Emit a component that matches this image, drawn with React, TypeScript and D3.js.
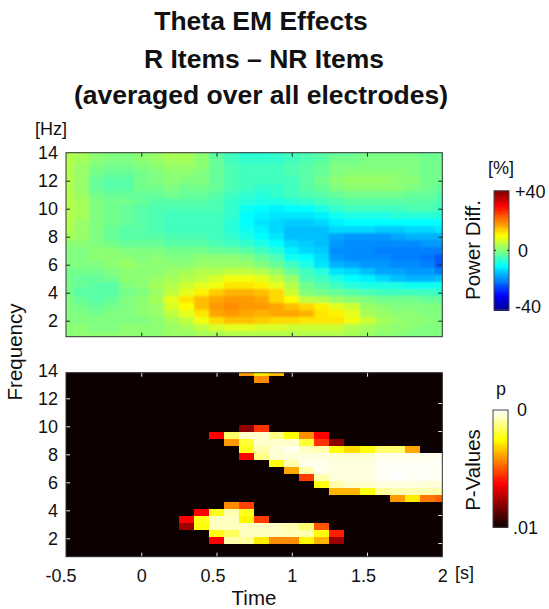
import React, { useEffect, useRef } from 'react';
import * as d3 from 'd3';

// time bins (s) and frequency bins (Hz), top row first
const times = [-0.5, -0.4, -0.3, -0.2, -0.1, 0, 0.1, 0.2, 0.3, 0.4, 0.5, 0.6, 0.7, 0.8, 0.9, 1, 1.1, 1.2, 1.3, 1.4, 1.5, 1.6, 1.7, 1.8, 1.9, 2];
const freqs = [14, 13.5, 13, 12.5, 12, 11.5, 11, 10.5, 10, 9.5, 9, 8.5, 8, 7.5, 7, 6.5, 6, 5.5, 5, 4.5, 4, 3.5, 3, 2.5, 2, 1.5, 1];

// power difference in %
const powerDiff = [
  [4, 3, 1, 0, 0, 1, 2, 3, 3, 1, -3, -5, -7, -7, -6, -5, -4, -3, -2, -2, -1, -1, -1, -1, -2, -2],
  [4, 3, 1, 0, 0, 1, 2, 3, 3, 1, -2, -5, -6, -6, -6, -5, -4, -3, -1, -1, 0, 0, 0, 0, -1, -1],
  [4, 2, 0, -1, -1, 0, 1, 2, 2, 1, -2, -4, -5, -5, -5, -4, -3, -2, 0, 0, 0, 0, 0, 0, -1, -1],
  [4, 2, -1, -2, -2, -1, 0, 1, 1, 0, -2, -4, -5, -5, -5, -4, -3, -2, 0, 1, 1, 1, 1, 0, -1, -1],
  [4, 2, -2, -3, -3, -1, 0, 1, 0, 0, -2, -4, -5, -5, -5, -5, -3, -1, 1, 2, 2, 2, 1, 1, -1, -1],
  [4, 2, -2, -3, -3, -1, -1, 0, -1, -1, -2, -4, -5, -6, -6, -5, -3, -2, 0, 1, 1, 1, 1, 0, -1, -2],
  [4, 2, -1, -2, -2, -2, -2, -1, -2, -2, -3, -5, -6, -7, -6, -5, -4, -3, -2, -1, -1, -1, -1, -2, -2, -3],
  [4, 3, 0, -1, -1, -2, -3, -3, -3, -3, -4, -6, -7, -8, -8, -7, -6, -5, -4, -3, -3, -3, -3, -3, -3, -4],
  [4, 3, 0, -1, -2, -3, -4, -4, -4, -4, -4, -6, -9, -10, -11, -10, -10, -8, -6, -5, -5, -5, -5, -4, -4, -5],
  [4, 3, 0, -1, -2, -3, -4, -5, -5, -5, -5, -6, -10, -11, -12, -12, -12, -11, -9, -8, -8, -8, -7, -7, -7, -7],
  [4, 2, 0, -1, -2, -3, -4, -5, -5, -5, -5, -7, -10, -12, -13, -14, -14, -13, -11, -10, -10, -10, -10, -10, -10, -10],
  [4, 2, 0, -2, -3, -3, -4, -5, -5, -5, -5, -7, -9, -11, -13, -15, -15, -15, -13, -13, -13, -14, -14, -13, -13, -12],
  [3, 2, 0, -2, -3, -3, -3, -4, -4, -4, -5, -6, -8, -10, -12, -15, -15, -15, -17, -18, -18, -18, -17, -16, -16, -16],
  [1, 1, 0, -1, -2, -2, -2, -3, -3, -3, -4, -5, -6, -8, -10, -13, -14, -15, -18, -19, -19, -19, -19, -19, -18, -18],
  [0, 0, 1, 1, 0, 0, 0, -1, -1, -1, -2, -2, -3, -5, -7, -11, -13, -14, -19, -19, -19, -20, -20, -20, -20, -20],
  [0, 0, 1, 1, 1, 0, 1, 0, 0, 1, 1, 1, 0, -2, -4, -9, -10, -13, -18, -19, -19, -19, -20, -20, -21, -23],
  [0, 0, 0, 1, 2, 1, 1, 1, 1, 2, 2, 2, 2, 0, -2, -5, -8, -12, -16, -17, -18, -18, -19, -19, -20, -23],
  [-1, -1, -1, 0, 1, 1, 1, 2, 3, 4, 4, 5, 5, 4, 2, -2, -5, -7, -12, -13, -15, -17, -17, -18, -18, -20],
  [-1, -2, -2, -1, 1, 1, 2, 3, 4, 5, 7, 9, 9, 8, 5, 2, -4, -5, -8, -10, -11, -13, -15, -16, -16, -15],
  [-1, -2, -3, -3, 0, 1, 3, 4, 6, 8, 9, 12, 12, 11, 8, 4, -1, -3, -5, -7, -8, -8, -8, -9, -9, -9],
  [-1, -3, -3, -3, -1, 0, 2, 5, 8, 11, 14, 16, 16, 15, 13, 6, 0, -1, -2, -3, -4, -5, -5, -5, -5, -6],
  [0, -2, -3, -2, 0, 1, 3, 8, 12, 15, 17, 18, 18, 17, 13, 10, 5, 4, 2, 1, 0, -1, -1, -1, -2, -2],
  [0, -1, -2, -1, 0, 1, 2, 7, 10, 15, 18, 19, 18, 18, 17, 15, 13, 11, 8, 6, 2, 1, 0, 0, 0, 0],
  [0, 0, -1, 0, 0, 1, 2, 5, 8, 12, 17, 18, 17, 16, 17, 17, 16, 12, 11, 8, 3, 2, 1, 1, 0, 0],
  [0, 0, 0, 0, 0, 0, 1, 3, 5, 9, 13, 15, 15, 14, 13, 13, 12, 12, 12, 9, 6, 3, 2, 1, 1, 0],
  [1, 1, 0, 0, 1, 1, 1, 2, 3, 5, 7, 8, 8, 7, 7, 6, 6, 6, 6, 4, 3, 2, 1, 1, 0, 0],
  [1, 1, 1, 1, 1, 1, 1, 2, 2, 3, 3, 4, 4, 4, 4, 4, 4, 4, 4, 3, 2, 1, 1, 0, 0, 0],
];

// position on the hot colormap (0 = p .01, 100 = p 0)
const pLevel = [
  [0, 0, 0, 0, 0, 0, 0, 0, 0, 0, 0, 0, 60, 72, 65, 0, 0, 0, 0, 0, 0, 0, 0, 0, 0, 0],
  [0, 0, 0, 0, 0, 0, 0, 0, 0, 0, 0, 0, 0, 58, 0, 0, 0, 0, 0, 0, 0, 0, 0, 0, 0, 0],
  [0, 0, 0, 0, 0, 0, 0, 0, 0, 0, 0, 0, 0, 0, 0, 0, 0, 0, 0, 0, 0, 0, 0, 0, 0, 0],
  [0, 0, 0, 0, 0, 0, 0, 0, 0, 0, 0, 0, 0, 0, 0, 0, 0, 0, 0, 0, 0, 0, 0, 0, 0, 0],
  [0, 0, 0, 0, 0, 0, 0, 0, 0, 0, 0, 0, 0, 0, 0, 0, 0, 0, 0, 0, 0, 0, 0, 0, 0, 0],
  [0, 0, 0, 0, 0, 0, 0, 0, 0, 0, 0, 0, 0, 0, 0, 0, 0, 0, 0, 0, 0, 0, 0, 0, 0, 0],
  [0, 0, 0, 0, 0, 0, 0, 0, 0, 0, 0, 0, 0, 0, 0, 0, 0, 0, 0, 0, 0, 0, 0, 0, 0, 0],
  [0, 0, 0, 0, 0, 0, 0, 0, 0, 0, 0, 0, 0, 0, 0, 0, 0, 0, 0, 0, 0, 0, 0, 0, 0, 0],
  [0, 0, 0, 0, 0, 0, 0, 0, 0, 0, 0, 0, 20, 45, 0, 0, 0, 0, 0, 0, 0, 0, 0, 0, 0, 0],
  [0, 0, 0, 0, 0, 0, 0, 0, 0, 0, 38, 85, 95, 95, 88, 75, 58, 38, 0, 0, 0, 0, 0, 0, 0, 0],
  [0, 0, 0, 0, 0, 0, 0, 0, 0, 0, 0, 60, 80, 95, 95, 95, 80, 45, 20, 0, 0, 0, 0, 0, 0, 0],
  [0, 0, 0, 0, 0, 0, 0, 0, 0, 0, 0, 0, 78, 92, 96, 98, 94, 92, 76, 70, 76, 86, 86, 62, 0, 0],
  [0, 0, 0, 0, 0, 0, 0, 0, 0, 0, 0, 0, 38, 88, 96, 96, 97, 97, 96, 96, 96, 98, 98, 98, 98, 98],
  [0, 0, 0, 0, 0, 0, 0, 0, 0, 0, 0, 0, 0, 0, 76, 92, 98, 98, 97, 97, 97, 99, 99, 99, 99, 99],
  [0, 0, 0, 0, 0, 0, 0, 0, 0, 0, 0, 0, 0, 0, 0, 62, 92, 98, 97, 97, 97, 99, 99, 99, 99, 99],
  [0, 0, 0, 0, 0, 0, 0, 0, 0, 0, 0, 0, 0, 0, 0, 0, 46, 92, 97, 97, 97, 99, 100, 99, 99, 99],
  [0, 0, 0, 0, 0, 0, 0, 0, 0, 0, 0, 0, 0, 0, 0, 0, 0, 76, 92, 95, 95, 97, 97, 97, 96, 96],
  [0, 0, 0, 0, 0, 0, 0, 0, 0, 0, 0, 0, 0, 0, 0, 0, 0, 0, 64, 64, 76, 90, 92, 92, 92, 92],
  [0, 0, 0, 0, 0, 0, 0, 0, 0, 0, 0, 0, 0, 0, 0, 0, 0, 0, 0, 0, 0, 0, 60, 72, 55, 52],
  [0, 0, 0, 0, 0, 0, 0, 0, 0, 0, 0, 58, 47, 0, 0, 0, 0, 0, 0, 0, 0, 0, 0, 0, 0, 0],
  [0, 0, 0, 0, 0, 0, 0, 0, 0, 38, 78, 92, 78, 0, 0, 0, 0, 0, 0, 0, 0, 0, 0, 0, 0, 0],
  [0, 0, 0, 0, 0, 0, 0, 0, 38, 78, 94, 94, 74, 46, 0, 0, 0, 0, 0, 0, 0, 0, 0, 0, 0, 0],
  [0, 0, 0, 0, 0, 0, 0, 0, 22, 76, 94, 94, 94, 94, 94, 92, 86, 50, 0, 0, 0, 0, 0, 0, 0, 0],
  [0, 0, 0, 0, 0, 0, 0, 0, 0, 0, 76, 84, 94, 94, 94, 93, 92, 76, 42, 0, 0, 0, 0, 0, 0, 0],
  [0, 0, 0, 0, 0, 0, 0, 0, 0, 0, 38, 92, 90, 72, 58, 58, 74, 64, 22, 0, 0, 0, 0, 0, 0, 0],
  [0, 0, 0, 0, 0, 0, 0, 0, 0, 0, 0, 0, 0, 0, 0, 0, 0, 0, 0, 0, 0, 0, 0, 0, 0, 0],
  [0, 0, 0, 0, 0, 0, 0, 0, 0, 0, 0, 0, 0, 0, 0, 0, 0, 0, 0, 0, 0, 0, 0, 0, 0, 0],
];

const titleLines = [
  { text: 'Theta EM Effects', x: 261, y: 30 },
  { text: 'R Items – NR Items', x: 264, y: 68 },
  { text: '(averaged over all electrodes)', x: 261, y: 104 },
];
const freqTicks = [2, 4, 6, 8, 10, 12, 14];
const timeTicks = [-0.5, 0, 0.5, 1, 1.5, 2];

const FONT = '"Liberation Sans", Arial, sans-serif';
const TICK_SIZE = 18;
const LABEL_SIZE = 20.5;

// jet and hot colormaps
const jet = d3.scaleLinear<string>()
  .domain([-40, -30, -10, 10, 30, 40])
  .range(['#00008f', '#0000ff', '#00ffff', '#ffff00', '#ff0000', '#800000']);
const hot = d3.scaleLinear<string>()
  .domain([0, 37.5, 75, 100])
  .range(['#0a0000', '#ff0000', '#ffff00', '#ffffff']);

export default function App() {
  const ref = useRef<SVGSVGElement>(null);

  useEffect(() => {
    const svg = d3.select(ref.current);
    svg.selectAll('*').remove();

    const left = 66, right = 442.3;
    const x = d3.scaleLinear().domain([-0.5, 2]).range([left, right]);

    const drawHeatmap = (id, top, bottom, matrix, color, tickColor, leftOffset, rightOffset, showTimeLabels, blur) => {
      const y = d3.scaleLinear().domain([14, 0.857]).range([top, bottom]);
      const g = svg.append('g');

      svg.append('clipPath').attr('id', id).append('rect')
        .attr('x', left).attr('y', top).attr('width', right - left).attr('height', bottom - top);
      svg.append('filter').attr('id', `${id}-blur`).attr('x', '-5%').attr('y', '-5%').attr('width', '110%').attr('height', '110%')
        .append('feGaussianBlur').attr('stdDeviation', blur);

      const clipped = g.append('g').attr('clip-path', `url(#${id})`);
      // the sharp layer underneath keeps the blurred edges from fading at the frame
      const layers = [clipped.append('g'), clipped.append('g').attr('filter', `url(#${id}-blur)`)];
      layers.forEach((layer) => {
        matrix.forEach((row, i) => {
          row.forEach((v, j) => {
            layer.append('rect')
              .attr('x', x(times[j] - 0.05))
              .attr('y', y(freqs[i] + 0.25))
              .attr('width', x(0.1) - x(0) + 0.5)
              .attr('height', y(0) - y(0.5) + 0.5)
              .attr('shape-rendering', 'crispEdges')
              .attr('fill', color(v));
          });
        });
      });

      // ticks point inward; the lower panel's left and right ticks sit off the grid in the original
      const yLeft = y.copy().range([top + leftOffset, bottom + leftOffset]);
      const yRight = y.copy().range([top + rightOffset, bottom + rightOffset]);

      const axisLeft = g.append('g').attr('transform', `translate(${left},0)`)
        .call(d3.axisLeft(yLeft).tickValues(freqTicks).tickSizeInner(-4).tickSizeOuter(0).tickPadding(9));
      const axisRight = g.append('g').attr('transform', `translate(${right},0)`)
        .call(d3.axisRight(yRight).tickValues(freqTicks).tickSizeInner(-4).tickSizeOuter(0).tickFormat(() => ''));
      const axisTop = g.append('g').attr('transform', `translate(0,${top})`)
        .call(d3.axisTop(x).tickValues(timeTicks).tickSizeInner(-4).tickSizeOuter(0).tickFormat(() => ''));
      const axisBottom = g.append('g').attr('transform', `translate(0,${bottom})`)
        .call(d3.axisBottom(x).tickValues(timeTicks).tickSizeInner(-4).tickSizeOuter(0).tickPadding(9)
          .tickFormat(showTimeLabels ? (d) => String(d) : () => ''));

      [axisLeft, axisRight, axisTop, axisBottom].forEach((a) => {
        a.select('.domain').remove();
        a.selectAll('.tick line').attr('stroke', tickColor).attr('stroke-width', 1);
        a.selectAll('.tick text').attr('font-family', FONT).attr('font-size', TICK_SIZE).attr('fill', '#111');
        a.attr('font-family', FONT);
      });
      // hide ticks that fall on or past the frame
      [axisLeft, axisRight].forEach((a) => {
        a.selectAll('.tick').filter((d) => d === 14).select('line').remove();
      });
      [axisTop, axisBottom].forEach((a) => {
        a.selectAll('.tick').filter((d) => d === -0.5 || d === 2).select('line').remove();
      });
      axisLeft.selectAll('.tick text').attr('x', -8);
      axisBottom.selectAll('.tick text').attr('y', 13)
        .attr('dx', (d) => (d === -0.5 ? -5.5 : d % 1 !== 0 ? -4 : 0));

      g.append('rect')
        .attr('x', left).attr('y', top).attr('width', right - left).attr('height', bottom - top)
        .attr('fill', 'none').attr('stroke', '#333').attr('stroke-width', 1);
    };

    drawHeatmap('clip-power', 152.7, 336.7, powerDiff, jet, '#222', 0, 0, false, 1);
    drawHeatmap('clip-pval', 372.7, 556.7, pLevel, hot, '#eee', -2.4, 2.3, true, 0.4);

    const drawColorbar = (x0, x1, y0, y1, domain, color, midTick) => {
      const barScale = d3.scaleLinear().domain(domain).range([y1, y0]);
      const steps = d3.range(64).map((i) => domain[0] + ((i + 0.5) * (domain[1] - domain[0])) / 64);
      const h = (y1 - y0) / 64;
      svg.append('g').attr('shape-rendering', 'crispEdges').selectAll('rect').data(steps).join('rect')
        .attr('x', x0).attr('width', x1 - x0)
        .attr('y', (d) => barScale(d) - h / 2).attr('height', h + 0.5)
        .attr('fill', (d) => color(d));
      svg.append('rect').attr('x', x0).attr('y', y0).attr('width', x1 - x0).attr('height', y1 - y0)
        .attr('fill', 'none').attr('stroke', '#444').attr('stroke-width', 1);
      if (midTick !== null) {
        [[x0, x0 + 2], [x1 - 2, x1]].forEach(([a, b]) => {
          svg.append('line').attr('x1', a).attr('x2', b)
            .attr('y1', barScale(midTick)).attr('y2', barScale(midTick))
            .attr('stroke', '#222').attr('stroke-width', 1);
        });
      }
    };
    drawColorbar(494, 509, 190.7, 310, [-40, 40], jet, 0);
    drawColorbar(493, 508, 410, 527.3, [0, 100], hot, null);

    const text = (s, px, py, size, opts: any = {}) => {
      const t = svg.append('text').attr('x', px).attr('y', py).text(s)
        .attr('font-family', FONT).attr('font-size', size).attr('fill', '#111')
        .attr('text-anchor', opts.anchor || 'start').attr('font-weight', opts.weight || 'normal');
      if (opts.rotate) t.attr('transform', `rotate(-90 ${px} ${py})`);
      return t;
    };

    titleLines.forEach((l) => text(l.text, l.x, l.y, 26.5, { anchor: 'middle', weight: 'bold' }));
    text('[Hz]', 35, 135, TICK_SIZE);
    text('[s]', 455, 579, TICK_SIZE);
    text('Time', 254, 605, LABEL_SIZE, { anchor: 'middle' });
    text('Frequency', 22, 352, LABEL_SIZE, { anchor: 'middle', rotate: true });
    text('Power Diff.', 480, 250, LABEL_SIZE, { anchor: 'middle', rotate: true });
    text('P-Values', 480, 470, LABEL_SIZE, { anchor: 'middle', rotate: true });
    text('[%]', 501, 174, TICK_SIZE, { anchor: 'middle' });
    text('+40', 515, 198, TICK_SIZE);
    text('0', 518, 257, TICK_SIZE);
    text('-40', 515, 313, TICK_SIZE);
    text('p', 501, 395, TICK_SIZE, { anchor: 'middle' });
    text('0', 517, 416, TICK_SIZE);
    text('.01', 513, 534, TICK_SIZE);
  }, []);

  return <svg ref={ref} width={549} height={609} style={{ position: 'absolute', left: 0, top: 0 }} />;
}
